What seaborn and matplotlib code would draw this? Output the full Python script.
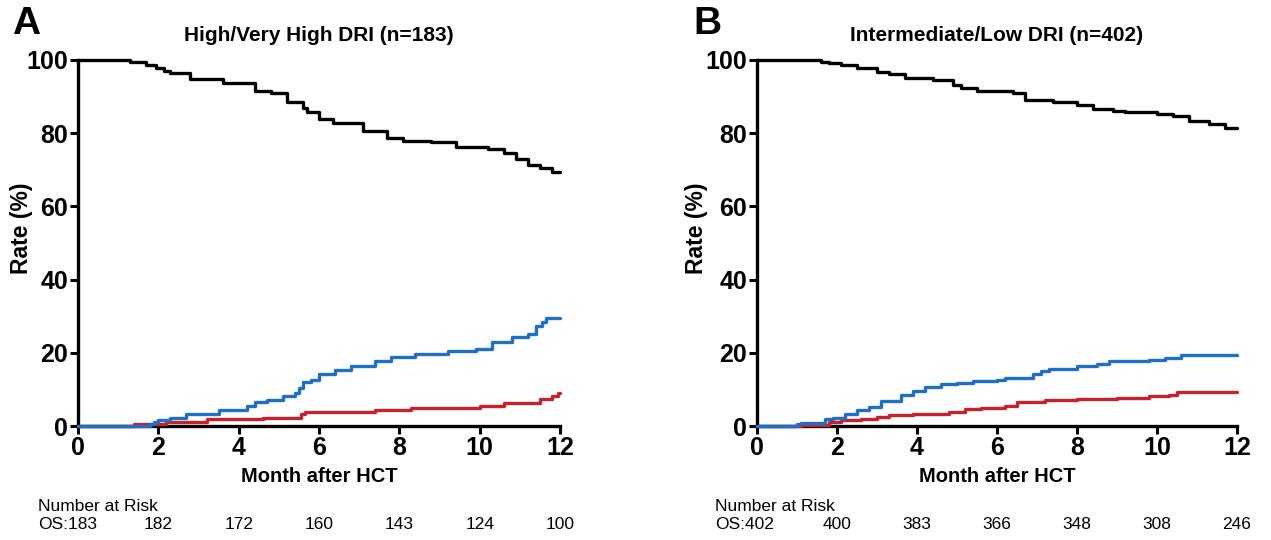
import numpy as np
import pandas as pd
import matplotlib
matplotlib.use('Agg')
import matplotlib.pyplot as plt
import seaborn as sns

# Panel A: High/Very High DRI, step curves (month, %)
a_os_t = [0, 1.3, 1.7, 1.95, 2.15, 2.3, 2.8, 3.6, 4.4, 4.8, 5.2, 5.6, 5.7, 6.0, 6.35, 7.1, 7.7, 8.1, 8.8, 9.4, 10.2, 10.6, 10.9, 11.2, 11.5, 11.8, 12.0]
a_os_v = [100, 99.5, 98.7, 97.9, 97.0, 96.5, 94.8, 93.7, 91.6, 91.1, 88.5, 87.0, 85.7, 83.8, 82.7, 80.7, 78.7, 77.9, 77.5, 76.3, 75.7, 74.7, 73.0, 71.3, 70.4, 69.5, 69.5]
a_rel_t = [0, 1.8, 1.9, 2.0, 2.3, 2.7, 3.5, 4.2, 4.4, 4.7, 5.1, 5.4, 5.5, 5.6, 5.8, 6.0, 6.4, 6.8, 7.4, 7.8, 8.4, 9.2, 9.9, 10.3, 10.8, 11.2, 11.4, 11.55, 11.65, 12.0]
a_rel_v = [0, 0.5, 1.1, 1.7, 2.3, 3.2, 4.3, 5.4, 6.5, 7.2, 8.1, 9.0, 10.5, 12.0, 12.6, 14.3, 15.2, 16.5, 17.7, 18.8, 19.7, 20.4, 21.1, 22.9, 24.3, 25.2, 27.2, 28.3, 29.5, 29.5]
a_nrm_t = [0, 1.4, 2.2, 3.2, 4.6, 5.55, 5.65, 7.4, 8.3, 10.0, 10.6, 11.5, 11.8, 11.95, 12.0]
a_nrm_v = [0, 0.6, 1.1, 1.8, 2.3, 3.2, 3.8, 4.5, 5.0, 5.5, 6.3, 7.5, 8.2, 9.0, 9.0]
a_risk = [183, 182, 172, 160, 143, 124, 100]

# Panel B: Intermediate/Low DRI
b_os_t = [0, 1.6, 1.8, 2.1, 2.5, 3.0, 3.3, 3.7, 4.4, 4.9, 5.1, 5.5, 6.4, 6.7, 7.4, 8.0, 8.4, 8.9, 9.2, 10.0, 10.4, 10.8, 11.3, 11.7, 12.0]
b_os_v = [100, 99.5, 99.1, 98.6, 97.7, 96.7, 96.1, 95.1, 94.6, 93.2, 92.3, 91.5, 90.9, 89.2, 88.4, 87.6, 86.7, 86.2, 85.7, 85.2, 84.6, 83.4, 82.4, 81.5, 81.5]
b_rel_t = [0, 1.0, 1.1, 1.7, 1.9, 2.2, 2.5, 2.8, 3.1, 3.6, 3.9, 4.2, 4.6, 5.0, 5.4, 6.0, 6.2, 6.9, 7.1, 7.3, 8.0, 8.5, 8.8, 9.8, 10.2, 10.6, 11.0, 12.0]
b_rel_v = [0, 0.5, 0.9, 1.8, 2.2, 3.4, 4.4, 5.3, 6.7, 8.6, 9.5, 10.7, 11.5, 11.8, 12.3, 12.7, 13.2, 14.1, 15.0, 15.7, 16.5, 16.9, 17.7, 18.1, 18.5, 19.3, 19.5, 19.5]
b_nrm_t = [0, 1.1, 1.8, 2.1, 2.6, 3.0, 3.3, 3.9, 4.8, 5.2, 5.6, 6.2, 6.5, 7.2, 8.0, 9.0, 9.8, 10.3, 10.5, 12.0]
b_nrm_v = [0, 0.3, 1.1, 1.6, 2.0, 2.5, 3.0, 3.3, 3.9, 4.6, 5.0, 5.6, 6.5, 7.0, 7.4, 7.6, 8.1, 8.6, 9.3, 9.3]
b_risk = [402, 400, 383, 366, 348, 308, 246]

risk_months = [0, 2, 4, 6, 8, 10, 12]
x_ticks = [0, 2, 4, 6, 8, 10, 12]
y_ticks = [0, 20, 40, 60, 80, 100]

sns.set_style('ticks')
bold_font = ['Liberation Sans Narrow', 'Liberation Sans', 'DejaVu Sans']
plain_font = ['Liberation Sans', 'DejaVu Sans']
plt.rcParams['font.family'] = bold_font
for k in ['text.color', 'axes.labelcolor', 'xtick.color', 'ytick.color', 'axes.edgecolor']:
    plt.rcParams[k] = 'black'

BLACK = '#000000'
BLUE = '#1f6fc6'
RED = '#c9212b'

fig = plt.figure(figsize=(12.71, 5.4), dpi=100)
ax_a = fig.add_axes([78 / 1271, 1 - 426 / 540, 482 / 1271, 366 / 540])
ax_b = fig.add_axes([757 / 1271, 1 - 426 / 540, 480 / 1271, 366 / 540])

panels = [
    (ax_a, 'High/Very High DRI (n=183)', a_os_t, a_os_v, a_rel_t, a_rel_v, a_nrm_t, a_nrm_v, a_risk, -0.083, -0.093),
    (ax_b, 'Intermediate/Low DRI (n=402)', b_os_t, b_os_v, b_rel_t, b_rel_v, b_nrm_t, b_nrm_v, b_risk, -0.0875, -0.102),
]

for ax, title, os_t, os_v, rel_t, rel_v, nrm_t, nrm_v, risk, risk_x, ylab_x in panels:
    # red first, blue over it, black on top
    for t, v, c in [(nrm_t, nrm_v, RED), (rel_t, rel_v, BLUE), (os_t, os_v, BLACK)]:
        sns.lineplot(x=t, y=v, ax=ax, color=c, linewidth=2.4, drawstyle='steps-post',
                     estimator=None, clip_on=False, zorder=3)

    ax.set_xlim(0, 12)
    ax.set_ylim(0, 100)
    ax.set_xticks(x_ticks)
    ax.set_yticks(y_ticks)
    sns.despine(ax=ax)
    for s in ['left', 'bottom']:
        ax.spines[s].set_linewidth(2.4)
    ax.tick_params(width=2.2, length=6, labelsize=18, pad=1)
    for lab in ax.get_xticklabels() + ax.get_yticklabels():
        lab.set_fontweight('bold')

    ax.set_title(title, fontsize=15, fontweight='bold', pad=14)
    ax.set_xlabel('Month after HCT', fontsize=14.5, fontweight='bold', labelpad=5)
    ax.set_ylabel('Rate (%)', fontsize=16.5, fontweight='bold')
    ax.yaxis.set_label_coords(ylab_x, 0.54)

    # number at risk table below the axis
    ax.text(risk_x, -0.219, 'Number at Risk', transform=ax.transAxes, ha='left', va='center',
            fontsize=12.5, family=plain_font)
    ax.text(risk_x, -0.268, f'OS:{risk[0]}', transform=ax.transAxes, ha='left', va='center',
            fontsize=12.5, family=plain_font)
    for m, n in zip(risk_months[1:], risk[1:]):
        ax.text(m, -0.268, str(n), transform=ax.get_xaxis_transform(), ha='center', va='center',
                fontsize=12.5, family=plain_font)

fig.text(12 / 1271, 1 - 6 / 540, 'A', ha='left', va='top', fontsize=28, fontweight='bold')
fig.text(693 / 1271, 1 - 6 / 540, 'B', ha='left', va='top', fontsize=28, fontweight='bold')

fig.savefig('out.png', dpi=100, facecolor='white')
